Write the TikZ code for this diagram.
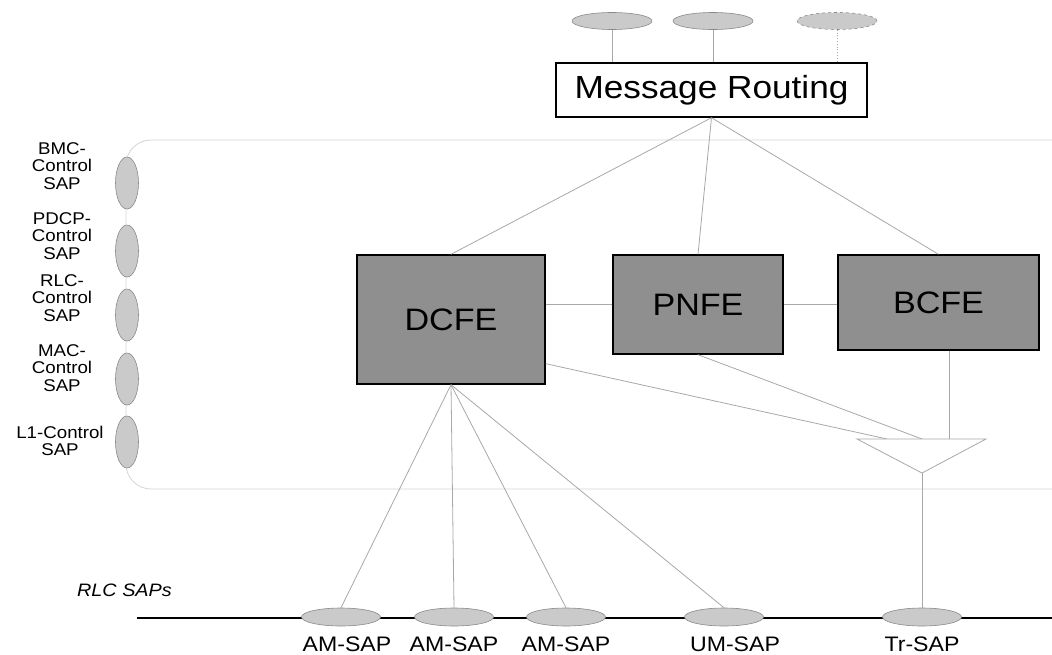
\documentclass[tikz,border=0pt]{standalone}
\usepackage{fontspec}
\setmainfont{Liberation Sans}[FakeStretch=1.1]
\usetikzlibrary{positioning,shapes.geometric}

\definecolor{boxgray}{HTML}{8F8F8F}
\definecolor{sapgray}{HTML}{CACACA}
\definecolor{sapline}{HTML}{8A8A8A}
\definecolor{linkgray}{HTML}{A8A8A8}
\definecolor{framegray}{HTML}{D4D4D4}

\tikzset{
  fe/.style={draw=black,line width=1.4pt,fill=boxgray,inner sep=0pt,font=\fontsize{31}{33}\selectfont},
  hsap/.style={ellipse,draw=sapline,line width=0.6pt,fill=sapgray,inner sep=0pt,minimum width=79pt,minimum height=18pt},
  vsap/.style={ellipse,draw=sapline,line width=0.6pt,fill=sapgray,inner sep=0pt,minimum width=23pt,minimum height=52pt},
  saplabel/.style={inner sep=0pt,align=center,font=\fontsize{17}{17.5}\selectfont},
  buslabel/.style={inner sep=0pt,font=\fontsize{21}{23}\selectfont},
  link/.style={draw=linkgray,line width=0.8pt}
}

\begin{document}
\begin{tikzpicture}[x=1pt,y=-1pt]
\useasboundingbox (0,0) rectangle (1052,654);
\draw [draw=framegray,line width=0.8pt,rounded corners=25pt] (1052,140) -- (126,140) -- (126,489) -- (1052,489);
\coordinate (busleft) at (137,618);
\coordinate (busright) at (1052,618);
\draw [line width=1.5pt] (busleft) -- (busright);

\node [draw=black,line width=1.4pt,fill=white,inner sep=0pt,minimum width=311pt,minimum height=54pt,
  font=\fontsize{32}{34}\selectfont] (MR) at (711.5,90) {Message Routing};
\node [hsap,minimum width=80pt,minimum height=17pt] (top1) at (612,21) {};
\node [hsap,minimum width=80pt,minimum height=17pt] (top2) at (713,21) {};
\node [hsap,minimum width=80pt,minimum height=17pt,dashed] (top3) at (837,21) {};

\node [fe,minimum width=188pt,minimum height=129pt] (DCFE) at (451,319.5) {DCFE};
\node [fe,minimum width=170pt,minimum height=99pt] (PNFE) at (698,304.5) {PNFE};
\node [fe,minimum width=201pt,minimum height=95pt] (BCFE) at (938.5,302.5) {BCFE};

\node [vsap] (bmc) at (127,183) {};
\node [vsap] (pdcp) at (127,251) {};
\node [vsap] (rlc) at (127,315) {};
\node [vsap] (mac) at (127,379) {};
\node [vsap] (l1) at (127,442) {};
\node [saplabel] (bmclabel) at (62,166) {BMC-\\Control\\SAP};
\node [saplabel] (pdcplabel) at (62,236) {PDCP-\\Control\\SAP};
\node [saplabel] (rlclabel) at (62,298) {RLC-\\Control\\SAP};
\node [saplabel] (maclabel) at (62,368) {MAC-\\Control\\SAP};
\node [saplabel] (l1label) at (60,441) {L1-Control\\SAP};

\node [hsap] (am1) at (341,617) {};
\node [hsap] (am2) at (454,617) {};
\node [hsap] (am3) at (566,617) {};
\node [hsap] (um) at (724,617) {};
\node [hsap] (tr) at (922,617) {};
\node [buslabel,below=10pt of am1,xshift=6pt] (am1label) {AM-SAP};
\node [buslabel,below=10pt of am2] (am2label) {AM-SAP};
\node [buslabel,below=10pt of am3] (am3label) {AM-SAP};
\node [buslabel,below=10pt of um,xshift=11pt] (umlabel) {UM-SAP};
\node [buslabel,below=10pt of tr] (trlabel) {Tr-SAP};
\node [inner sep=0pt,anchor=east,font=\itshape\fontsize{18}{20}\selectfont] (rlcsaps) at (172,590) {RLC SAPs};

\coordinate (trileft) at (857,439);
\coordinate (triright) at (986,439);
\coordinate (tritip) at (922,473);
\coordinate (triA) at (887,439);
\coordinate (triB) at (922,439);
\coordinate (triC) at (949,439);

\draw [link] (top1) -- (top1 |- MR.north);
\draw [link] (top2) -- (top2 |- MR.north);
\draw [link,dotted] (top3) -- (top3 |- MR.north);
\draw [link] (MR.south) -- (DCFE.north);
\draw [link] (MR.south) -- (PNFE.north);
\draw [link] (MR.south) -- (BCFE.north);
\draw [link] (PNFE.west) -- (DCFE.east |- PNFE.west);
\draw [link] (PNFE.east) -- (BCFE.west |- PNFE.east);
\draw [link] (DCFE.-25) -- (triA);
\draw [link] (PNFE.south) -- (triB);
\draw [link] (triC |- BCFE.south) -- (triC);
\draw [draw=linkgray,line width=0.8pt,fill=white] (trileft) -- (triright) -- (tritip) -- cycle;
\draw [link] (tritip) -- (tr.north);
\draw [link] (DCFE.south) -- (am1.north);
\draw [link] (DCFE.south) -- (am2.north);
\draw [link] (DCFE.south) -- (am3.north);
\draw [link] (DCFE.south) -- (um.north);
\end{tikzpicture}
\end{document}
